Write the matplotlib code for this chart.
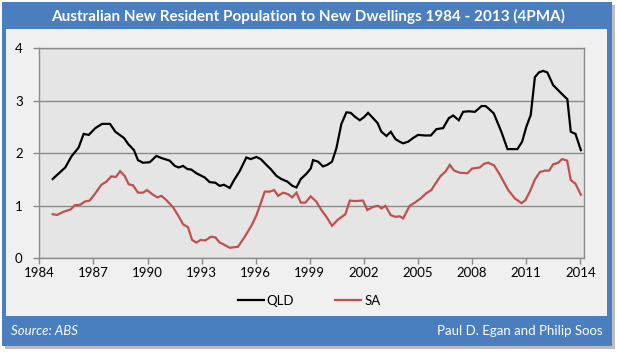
import matplotlib
matplotlib.use("Agg")
import matplotlib.pyplot as plt
from matplotlib.patches import Rectangle

# ---- data ----
qld_years = [1984.74, 1985.44, 1985.78, 1986.18, 1986.46, 1986.74, 1987.11, 1987.48, 1987.92, 1988.22,
             1988.70, 1988.92, 1989.25, 1989.47, 1989.75, 1990.12, 1990.25, 1990.49, 1990.77, 1991.23,
             1991.51, 1991.73, 1991.97, 1992.21, 1992.43, 1992.71, 1993.17, 1993.45, 1993.76, 1994.00,
             1994.24, 1994.56, 1994.80, 1995.11, 1995.48, 1995.72, 1996.04, 1996.28, 1996.59, 1996.83,
             1997.15, 1997.42, 1997.76, 1998.03, 1998.26, 1998.50, 1998.81, 1999.05, 1999.18, 1999.46,
             1999.73, 1999.97, 2000.23, 2000.47, 2000.75, 2001.03, 2001.27, 2001.49, 2001.77, 2002.01,
             2002.23, 2002.45, 2002.75, 2002.97, 2003.25, 2003.49, 2003.75, 2003.99, 2004.17, 2004.45,
             2004.72, 2005.00, 2005.37, 2005.71, 2006.02, 2006.39, 2006.71, 2006.95, 2007.26, 2007.50,
             2007.82, 2008.15, 2008.33, 2008.52, 2008.74, 2008.89, 2009.20, 2009.62, 2009.96, 2010.51,
             2010.77, 2011.01, 2011.25, 2011.48, 2011.70, 2011.94, 2012.17, 2012.49, 2012.86, 2013.28,
             2013.47, 2013.73, 2014.03]
qld_values = [1.51, 1.73, 1.94, 2.11, 2.37, 2.35, 2.48, 2.56, 2.56, 2.41,
              2.29, 2.18, 2.06, 1.87, 1.82, 1.83, 1.87, 1.95, 1.91, 1.86,
              1.76, 1.73, 1.76, 1.70, 1.69, 1.62, 1.54, 1.45, 1.44, 1.38,
              1.40, 1.34, 1.49, 1.66, 1.92, 1.89, 1.93, 1.89, 1.78, 1.70,
              1.57, 1.51, 1.46, 1.38, 1.35, 1.51, 1.61, 1.71, 1.87, 1.84,
              1.75, 1.78, 1.84, 2.09, 2.56, 2.78, 2.77, 2.70, 2.63, 2.69,
              2.77, 2.69, 2.58, 2.41, 2.33, 2.41, 2.27, 2.22, 2.19, 2.22,
              2.29, 2.35, 2.34, 2.34, 2.46, 2.48, 2.67, 2.72, 2.63, 2.79,
              2.80, 2.79, 2.84, 2.90, 2.90, 2.86, 2.76, 2.41, 2.08, 2.08,
              2.22, 2.51, 2.73, 3.45, 3.54, 3.57, 3.54, 3.30, 3.17, 3.03,
              2.41, 2.37, 2.06]

sa_years = [1984.74, 1984.98, 1985.37, 1985.74, 1985.96, 1986.27, 1986.52, 1986.79, 1987.07, 1987.44,
            1987.72, 1987.99, 1988.25, 1988.48, 1988.73, 1988.96, 1989.20, 1989.47, 1989.75, 1989.97,
            1990.31, 1990.55, 1990.77, 1991.04, 1991.42, 1991.69, 1991.97, 1992.25, 1992.47, 1992.71,
            1992.95, 1993.21, 1993.51, 1993.76, 1994.00, 1994.19, 1994.56, 1995.02, 1995.39, 1995.76,
            1996.04, 1996.28, 1996.50, 1996.78, 1997.02, 1997.24, 1997.52, 1997.80, 1998.02, 1998.26,
            1998.50, 1998.75, 1999.05, 1999.36, 1999.64, 1999.92, 2000.23, 2000.57, 2000.97, 2001.22,
            2001.49, 2001.95, 2002.19, 2002.51, 2002.79, 2002.97, 2003.19, 2003.49, 2003.75, 2003.99,
            2004.17, 2004.54, 2004.82, 2005.15, 2005.46, 2005.74, 2005.96, 2006.26, 2006.52, 2006.76,
            2007.00, 2007.32, 2007.74, 2008.00, 2008.43, 2008.66, 2008.89, 2009.22, 2009.54, 2010.00,
            2010.37, 2010.74, 2010.96, 2011.20, 2011.48, 2011.75, 2012.03, 2012.27, 2012.49, 2012.77,
            2012.99, 2013.27, 2013.47, 2013.73, 2014.03]
sa_values = [0.84, 0.825, 0.89, 0.93, 1.01, 1.02, 1.08, 1.10, 1.22, 1.40,
             1.46, 1.56, 1.55, 1.66, 1.57, 1.41, 1.39, 1.25, 1.25, 1.30,
             1.21, 1.16, 1.19, 1.11, 0.97, 0.82, 0.65, 0.59, 0.35, 0.30,
             0.35, 0.34, 0.41, 0.40, 0.30, 0.27, 0.20, 0.22, 0.41, 0.62,
             0.82, 1.05, 1.27, 1.27, 1.30, 1.19, 1.25, 1.22, 1.16, 1.25,
             1.06, 1.06, 1.18, 1.08, 0.92, 0.79, 0.62, 0.74, 0.84, 1.10,
             1.09, 1.10, 0.92, 0.98, 1.00, 0.95, 1.00, 0.82, 0.79, 0.80,
             0.76, 1.00, 1.06, 1.14, 1.24, 1.30, 1.42, 1.57, 1.65, 1.78,
             1.67, 1.63, 1.62, 1.71, 1.73, 1.80, 1.82, 1.77, 1.59, 1.30,
             1.14, 1.05, 1.11, 1.27, 1.50, 1.64, 1.67, 1.67, 1.79, 1.82,
             1.89, 1.86, 1.49, 1.42, 1.21]

x_ticks = [1984, 1987, 1990, 1993, 1996, 1999, 2002, 2005, 2008, 2011, 2014]
y_ticks = [0, 1, 2, 3, 4]
series_names = ["QLD", "SA"]
title = "Australian New Resident Population to New Dwellings 1984 - 2013 (4PMA)"
source = "Source: ABS"
credit = "Paul D. Egan and Philip Soos"

# ---- styling ----
W, H = 617, 352
BLUE = "#4a7ebf"
PANEL = "#f0f0f0"
PLOT_BG = "#e5e5e5"
GRID = "#8a8a8a"
FONT = ["Lato", "DejaVu Sans"]

fig = plt.figure(figsize=(W / 100, H / 100), dpi=100)
fig.patch.set_facecolor("white")


def px(x0, y0, x1, y1):
    """pixel box (top-left origin) -> figure fraction (x, y, w, h)"""
    return (x0 / W, 1 - y1 / H, (x1 - x0) / W, (y1 - y0) / H)


def add_rect(box, color, z):
    x, y, w, h = px(*box)
    fig.add_artist(Rectangle((x, y), w, h, transform=fig.transFigure,
                             facecolor=color, edgecolor="none", zorder=z))


# shadow, blue frame, gray panel
add_rect((5, 5, 615, 349), "#bdbdbd", 0)
add_rect((2, 2, 612, 346), BLUE, 1)
add_rect((6, 29, 607, 316), PANEL, 2)

fig.text(308 / W, 1 - 16 / H, title, color="white", fontsize=11, fontweight="bold",
         ha="center", va="center", family=FONT, zorder=5)
fig.text(11 / W, 1 - 331 / H, source, color="white", fontsize=9.5, style="italic",
         ha="left", va="center", family=FONT, zorder=5)
fig.text(603 / W, 1 - 331 / H, credit, color="white", fontsize=9.5,
         ha="right", va="center", family=FONT, zorder=5)

ax = fig.add_axes(px(39.3, 48.3, 584.3, 258.3))
ax.set_zorder(3)
ax.set_facecolor(PLOT_BG)
ax.plot(qld_years, qld_values, color="black", lw=1.6, label=series_names[0], solid_joinstyle="miter")
ax.plot(sa_years, sa_values, color="#c0504d", lw=1.6, label=series_names[1], solid_joinstyle="miter")

ax.set_xlim(1984, 2014.22)
ax.set_ylim(0, 4)
ax.set_xticks(x_ticks)
ax.set_yticks(y_ticks)
ax.set_xticklabels([str(t) for t in x_ticks], family=FONT, fontsize=9.5)
ax.set_yticklabels([str(t) for t in y_ticks], family=FONT, fontsize=9.5)
ax.tick_params(axis="both", color=GRID, length=4, width=1, direction="out", pad=2)
ax.tick_params(axis="y", pad=8)
ax.yaxis.grid(True, color=GRID, lw=1)
ax.set_axisbelow(True)
for s in ax.spines.values():
    s.set_color(GRID)
    s.set_linewidth(1)

leg = fig.legend(loc="center", bbox_to_anchor=(309 / W, 1 - 301 / H), ncol=2, frameon=False,
                 handlelength=2.0, columnspacing=3.1, handletextpad=0.2,
                 prop={"family": FONT, "size": 9.5})

fig.savefig("out.png", dpi=100, facecolor=fig.get_facecolor())
